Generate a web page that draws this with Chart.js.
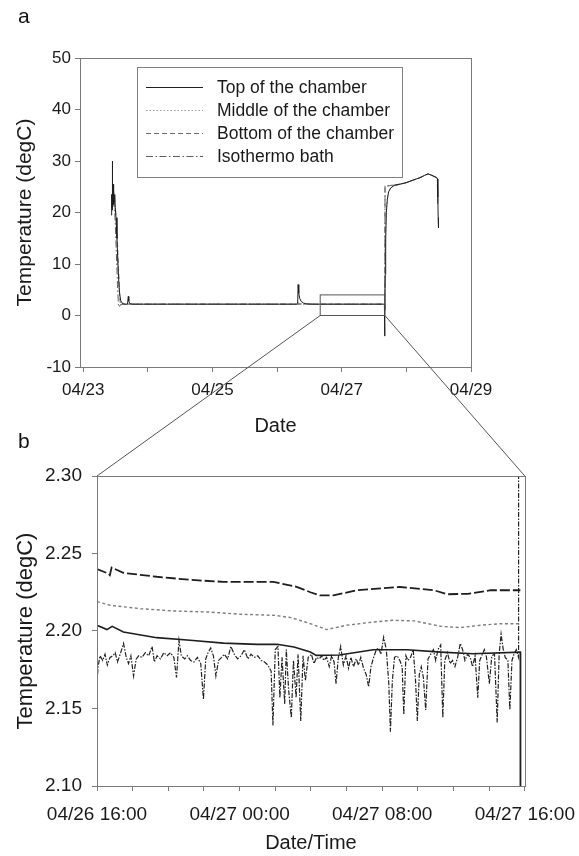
<!DOCTYPE html>
<html>
<head>
<meta charset="utf-8">
<script src="https://cdn.jsdelivr.net/npm/chart.js@4.4.1/dist/chart.umd.min.js"></script>
<style>
  html, body { margin: 0; padding: 0; background: #fff; }
  #page { position: relative; width: 579px; height: 856px; overflow: hidden; font-family: "Liberation Sans", Arial, sans-serif; }
  canvas { position: absolute; left: 0; }
  #chartA { top: 0; }
  #chartB { top: 440px; }
  #overlay { top: 0; pointer-events: none; }
  .panel { position: absolute; left: 18px; font-size: 21px; color: #111; }
</style>
</head>
<body>
<div id="page">
  <canvas id="chartA" width="579" height="440"></canvas>
  <canvas id="chartB" width="579" height="416"></canvas>
  <canvas id="overlay" width="579" height="856"></canvas>
  <div class="panel" style="top:4px">a</div>
  <div class="panel" style="top:429px">b</div>
</div>
<script>
// ---- panel a: days since 04/23 00:00 ----
const aTickDays = [0, 1, 2, 3, 4, 5, 6];
const aTickLabels = ["04/23", "", "04/25", "", "04/27", "", "04/29"];
const aTempTicks = [-10, 0, 10, 20, 30, 40, 50];

const topDaysA = [0.433, 0.440, 0.446, 0.450, 0.455, 0.461, 0.467, 0.473, 0.480, 0.487, 0.495, 0.508, 0.522, 0.540, 0.560, 0.580, 0.598, 0.615, 0.640, 0.685, 0.697, 0.705, 0.720, 0.760, 3.300, 3.318, 3.325, 3.335, 3.350, 3.375, 3.410, 3.460, 3.550, 4.660, 4.664, 4.668, 4.673, 4.680, 4.690, 4.705, 4.725, 4.760, 4.820, 4.900, 5.000, 5.100, 5.200, 5.280, 5.335, 5.380, 5.430, 5.470, 5.482, 5.487, 5.492, 5.497];
const topTempA = [19.5, 23.5, 20.5, 30.0, 22.0, 25.5, 21.5, 24.5, 22.0, 23.5, 21.0, 19.0, 15.0, 9.0, 4.5, 2.9, 2.5, 2.3, 2.2, 2.2, 3.7, 2.8, 2.3, 2.2, 2.2, 2.4, 6.0, 4.3, 3.3, 2.7, 2.4, 2.25, 2.2, 2.2, -4.0, 1.0, 8.0, 15.0, 20.0, 22.5, 24.0, 24.8, 25.3, 25.5, 25.8, 26.3, 26.7, 27.2, 27.5, 27.3, 27.0, 26.8, 26.5, 23.0, 19.0, 17.0];

const midDaysA = [0.440, 0.455, 0.470, 0.490, 0.510, 0.530, 0.550, 0.570, 0.590, 0.610, 0.640, 0.700, 3.300, 3.330, 3.360, 3.420, 4.660, 4.667, 4.675, 4.690, 4.710, 4.740, 4.780, 4.850, 5.000, 5.200, 5.335, 5.430, 5.480, 5.490];
const midTempA = [22.0, 23.5, 22.5, 21.0, 18.0, 12.0, 6.0, 3.0, 2.4, 2.2, 2.2, 2.2, 2.2, 2.6, 2.3, 2.2, 2.2, 2.2, 12.0, 20.0, 23.5, 24.5, 25.0, 25.4, 25.8, 26.7, 27.5, 27.0, 26.6, 22.0];

const botDaysA = [0.445, 0.460, 0.480, 0.500, 0.520, 0.540, 0.560, 0.575, 0.590, 0.610, 0.650, 3.300, 3.340, 3.400, 4.660, 4.666, 4.670, 4.700, 4.780, 4.900, 5.000, 5.200, 5.335, 5.430, 5.480, 5.488];
const botTempA = [22.5, 23.0, 22.0, 20.5, 17.0, 11.0, 5.0, 2.0, 2.2, 2.2, 2.2, 2.2, 2.3, 2.2, 2.2, 2.2, 25.0, 25.1, 25.3, 25.5, 25.8, 26.7, 27.5, 27.0, 26.6, 22.0];

const bathDaysA = [0.440, 0.455, 0.470, 0.490, 0.510, 0.530, 0.545, 0.555, 0.570, 0.600, 0.700, 3.300, 3.400, 4.660, 4.665, 4.670, 4.700, 4.780, 4.850, 5.000, 5.200, 5.335, 5.430, 5.478, 5.485];
const bathTempA = [21.0, 23.0, 22.0, 19.5, 13.0, 6.0, 2.0, 1.6, 2.0, 2.2, 2.2, 2.2, 2.2, 2.2, 2.2, 25.2, 25.2, 25.3, 25.3, 25.8, 26.7, 27.5, 27.0, 26.6, 21.5];

// zoomed window shown in panel b (04/26 16:00 - 04/27 16:00)
const zoomWindowDays = [3.6667, 4.6667];
const zoomWindowTemp = [0, 4];

// ---- panel b: hours since 04/26 16:00 ----
const bTickHours = [0, 2, 4, 6, 8, 10, 12, 14, 16, 18, 20, 22, 24];
const bTickLabels = ["04/26 16:00", "", "", "", "04/27 00:00", "", "", "", "04/27 08:00", "", "", "", "04/27 16:00"];
const bTempTicks = [2.10, 2.15, 2.20, 2.25, 2.30];

const botHoursB = [0, 0.64, 0.72, 0.82, 1.48, 3.35, 5.22, 7.10, 9.90, 11.20, 11.97, 12.50, 13.26, 14.58, 17.00, 18.90, 19.66, 20.80, 22.10, 23.75];
const botTempB = [2.240, 2.237, 2.236, 2.241, 2.2375, 2.235, 2.233, 2.2317, 2.2317, 2.2285, 2.225, 2.223, 2.223, 2.2263, 2.2284, 2.2263, 2.2237, 2.224, 2.2263, 2.2263];

const midHoursB = [0, 0.73, 2.43, 4.31, 6.20, 8.08, 9.96, 10.90, 11.97, 12.88, 14.00, 15.50, 16.60, 17.80, 19.30, 20.40, 21.50, 22.60, 23.75];
const midTempB = [2.219, 2.2166, 2.2144, 2.2129, 2.2123, 2.2108, 2.2101, 2.2086, 2.2047, 2.2009, 2.2037, 2.2058, 2.2069, 2.2065, 2.203, 2.2022, 2.2037, 2.2047, 2.2047];

const topHoursB = [0, 0.56, 0.85, 1.48, 3.35, 5.22, 7.10, 8.98, 10.10, 11.05, 11.97, 12.30, 13.60, 15.50, 17.40, 19.30, 21.10, 23.75, 23.76];
const topTempB = [2.2037, 2.2009, 2.203, 2.1994, 2.1957, 2.194, 2.1922, 2.1914, 2.1914, 2.1897, 2.1864, 2.1843, 2.1845, 2.1879, 2.1879, 2.1864, 2.1853, 2.1864, -4.0];

const bathHoursB = [0, 0.06, 0.17, 0.32, 0.45, 0.58, 0.73, 0.89, 1.02, 1.15, 1.30, 1.49, 1.64, 1.77, 1.90, 2.05, 2.20, 2.34, 2.52, 2.71, 2.90, 3.09, 3.22, 3.37, 3.56, 3.75, 3.94, 4.12, 4.31, 4.46, 4.60, 4.73, 4.92, 5.07, 5.25, 5.44, 5.63, 5.82, 5.97, 6.10, 6.23, 6.38, 6.53, 6.67, 6.82, 6.99, 7.14, 7.33, 7.51, 7.70, 7.89, 8.08, 8.27, 8.46, 8.64, 8.83, 9.02, 9.21, 9.40, 9.59, 9.77, 9.87, 10.00, 10.15, 10.26, 10.38, 10.53, 10.62, 10.75, 10.90, 11.02, 11.17, 11.28, 11.43, 11.56, 11.69, 11.85, 12.03, 12.17, 12.32, 12.47, 12.60, 12.73, 12.88, 13.03, 13.16, 13.30, 13.41, 13.54, 13.67, 13.82, 13.97, 14.11, 14.24, 14.39, 14.54, 14.67, 14.80, 14.95, 15.10, 15.24, 15.37, 15.52, 15.67, 15.80, 15.93, 16.08, 16.23, 16.37, 16.46, 16.57, 16.69, 16.84, 16.99, 17.12, 17.21, 17.33, 17.44, 17.59, 17.74, 17.87, 17.97, 18.08, 18.19, 18.31, 18.44, 18.57, 18.72, 18.87, 19.00, 19.13, 19.28, 19.40, 19.51, 19.66, 19.81, 19.94, 20.08, 20.23, 20.38, 20.51, 20.64, 20.79, 20.94, 21.07, 21.21, 21.36, 21.47, 21.58, 21.73, 21.85, 22.01, 22.15, 22.30, 22.45, 22.56, 22.67, 22.79, 22.90, 23.05, 23.16, 23.28, 23.39, 23.52, 23.65, 23.76];
const bathTempB = [2.166, 2.177, 2.184, 2.181, 2.185, 2.178, 2.183, 2.184, 2.186, 2.180, 2.185, 2.192, 2.183, 2.179, 2.184, 2.171, 2.182, 2.184, 2.183, 2.186, 2.184, 2.190, 2.180, 2.184, 2.182, 2.186, 2.184, 2.186, 2.183, 2.170, 2.194, 2.184, 2.182, 2.184, 2.181, 2.180, 2.183, 2.179, 2.156, 2.182, 2.186, 2.189, 2.184, 2.171, 2.181, 2.183, 2.185, 2.182, 2.190, 2.185, 2.182, 2.184, 2.188, 2.182, 2.185, 2.183, 2.184, 2.181, 2.180, 2.178, 2.174, 2.139, 2.188, 2.190, 2.157, 2.183, 2.153, 2.188, 2.162, 2.144, 2.181, 2.157, 2.185, 2.142, 2.184, 2.168, 2.183, 2.185, 2.179, 2.183, 2.182, 2.184, 2.181, 2.183, 2.177, 2.184, 2.180, 2.166, 2.183, 2.190, 2.178, 2.184, 2.176, 2.183, 2.177, 2.182, 2.178, 2.183, 2.176, 2.172, 2.164, 2.177, 2.183, 2.188, 2.189, 2.185, 2.196, 2.188, 2.166, 2.135, 2.168, 2.183, 2.184, 2.181, 2.177, 2.146, 2.184, 2.181, 2.183, 2.188, 2.168, 2.142, 2.172, 2.177, 2.170, 2.149, 2.182, 2.185, 2.188, 2.181, 2.188, 2.191, 2.144, 2.181, 2.186, 2.179, 2.181, 2.177, 2.183, 2.192, 2.188, 2.181, 2.185, 2.183, 2.177, 2.184, 2.157, 2.181, 2.184, 2.188, 2.183, 2.166, 2.184, 2.185, 2.141, 2.185, 2.198, 2.188, 2.183, 2.181, 2.149, 2.181, 2.185, 2.188, 2.183, 25.2];

const seriesNames = ["Top of the chamber", "Middle of the chamber", "Bottom of the chamber", "Isothermo bath"];

const FONT = "'Liberation Sans', Arial, sans-serif";
const TEXT = "#1a1a1a";
const AXIS_GRAY = "#7a7a7a";

function pts(xs, ys) {
  return xs.map((x, i) => ({ x: x, y: ys[i] }));
}

function line(label, data, color, width, dash) {
  return {
    label: label,
    data: data,
    borderColor: color,
    borderWidth: width,
    borderDash: dash,
    pointRadius: 0,
    tension: 0,
    fill: false,
  };
}

// box round the plot area
const framePlugin = {
  id: "frame",
  afterDraw(chart) {
    const { ctx, chartArea: c } = chart;
    ctx.save();
    ctx.strokeStyle = AXIS_GRAY;
    ctx.lineWidth = 1;
    ctx.strokeRect(Math.round(c.left) + 0.5, Math.round(c.top) + 0.5,
      Math.round(c.right - c.left), Math.round(c.bottom - c.top));
    ctx.restore();
  },
};

// legend box inside panel a
const boxLegend = {
  id: "boxLegend",
  afterDraw(chart) {
    const { ctx, chartArea: c } = chart;
    const left = c.left + 57, top = c.top + 9;
    ctx.save();
    ctx.fillStyle = "#fff";
    ctx.fillRect(left, top, 265, 110);
    ctx.strokeStyle = "#808080";
    ctx.lineWidth = 1;
    ctx.strokeRect(left + 0.5, top + 0.5, 265, 110);
    chart.data.datasets.forEach((ds, i) => {
      const y = top + 20 + 23 * i;
      ctx.strokeStyle = ds.borderColor;
      ctx.lineWidth = 1.2;
      ctx.setLineDash(ds.borderDash);
      ctx.beginPath();
      ctx.moveTo(left + 9, y + 0.5);
      ctx.lineTo(left + 66, y + 0.5);
      ctx.stroke();
      ctx.setLineDash([]);
      ctx.fillStyle = TEXT;
      ctx.font = "17.5px " + FONT;
      ctx.textBaseline = "middle";
      ctx.fillText(seriesNames[i], left + 80, y + 1);
    });
    ctx.restore();
  },
};

// rectangle marking the zoomed window in panel a
const zoomBox = {
  id: "zoomBox",
  afterDatasetsDraw(chart) {
    const { ctx } = chart;
    const x = chart.scales.x, y = chart.scales.y;
    const x0 = x.getPixelForValue(zoomWindowDays[0]), x1 = x.getPixelForValue(zoomWindowDays[1]);
    const y0 = y.getPixelForValue(zoomWindowTemp[0]), y1 = y.getPixelForValue(zoomWindowTemp[1]);
    ctx.save();
    ctx.strokeStyle = "#555";
    ctx.lineWidth = 1;
    ctx.strokeRect(x0, y1, x1 - x0, y0 - y1);
    ctx.restore();
  },
};

function makeOptions(cfg) {
  return {
    responsive: false,
    animation: false,
    events: [],
    layout: { padding: cfg.padding },
    plugins: { legend: { display: false }, tooltip: { enabled: false } },
    scales: {
      x: {
        type: "linear",
        min: cfg.xMin,
        max: cfg.xMax,
        afterBuildTicks: (s) => { s.ticks = cfg.xTicks.map((v) => ({ value: v })); },
        afterFit: (s) => { s.height = cfg.xHeight; },
        grid: { drawOnChartArea: false, drawTicks: true, tickLength: 5, color: AXIS_GRAY },
        border: { color: AXIS_GRAY },
        ticks: {
          autoSkip: false, maxRotation: 0, padding: cfg.xPad, color: TEXT,
          font: { family: FONT, size: cfg.tickSize, lineHeight: cfg.xLineHeight },
          callback: (v, i) => cfg.xLabels[i],
        },
        title: { display: true, text: cfg.xTitle, color: TEXT, font: { family: FONT, size: 20 }, padding: { top: 0, bottom: cfg.xTitlePad } },
      },
      y: {
        type: "linear",
        min: cfg.yMin,
        max: cfg.yMax,
        afterBuildTicks: (s) => { s.ticks = cfg.yTicks.map((v) => ({ value: v })); },
        afterFit: (s) => { s.width = cfg.yWidth; },
        grid: { drawOnChartArea: false, drawTicks: true, tickLength: 5, color: AXIS_GRAY },
        border: { color: AXIS_GRAY },
        ticks: {
          padding: cfg.yPad, color: TEXT,
          font: { family: FONT, size: cfg.tickSize },
          callback: (v) => cfg.yFormat(v),
        },
        title: { display: true, text: "Temperature (degC)", color: TEXT, font: { family: FONT, size: cfg.yTitleSize }, padding: { top: 13, bottom: 0 } },
      },
    },
  };
}

const chartA = new Chart(document.getElementById("chartA"), {
  type: "line",
  data: {
    datasets: [
      line(seriesNames[0], pts(topDaysA, topTempA), "#1e1e1e", 1, []),
      line(seriesNames[1], pts(midDaysA, midTempA), "#9a9a9a", 1, [1.5, 2]),
      line(seriesNames[2], pts(botDaysA, botTempA), "#6e6e6e", 1, [5, 3]),
      line(seriesNames[3], pts(bathDaysA, bathTempA), "#5e5e5e", 1, [7, 2.5, 1.5, 2.5]),
    ],
  },
  options: makeOptions({
    padding: { left: 0, right: 108, top: 58, bottom: 0 },
    xMin: -0.05, xMax: 6, xTicks: aTickDays, xLabels: aTickLabels, xHeight: 73, xPad: 8, xLineHeight: 1.2,
    xTitle: "Date", xTitlePad: 2,
    yMin: -10, yMax: 50, yTicks: aTempTicks, yWidth: 80, yPad: 4,
    yFormat: (v) => String(v), tickSize: 17, yTitleSize: 21,
  }),
  plugins: [framePlugin, zoomBox, boxLegend],
});

const chartB = new Chart(document.getElementById("chartB"), {
  type: "line",
  data: {
    datasets: [
      line(seriesNames[0], pts(topHoursB, topTempB), "#1e1e1e", 1.6, []),
      line(seriesNames[1], pts(midHoursB, midTempB), "#7e7e7e", 1.4, [3, 2.5]),
      line(seriesNames[2], pts(botHoursB, botTempB), "#1e1e1e", 1.8, [10, 3]),
      line(seriesNames[3], pts(bathHoursB, bathTempB), "#222", 1.2, [5, 1.5, 1.5, 1.5]),
    ],
  },
  options: makeOptions({
    padding: { left: 0, right: 54, top: 36, bottom: 0 },
    xMin: 0, xMax: 24, xTicks: bTickHours, xLabels: bTickLabels, xHeight: 70, xPad: 4, xLineHeight: 2.1,
    xTitle: "Date/Time", xTitlePad: 1,
    yMin: 2.10, yMax: 2.30, yTicks: bTempTicks, yWidth: 97, yPad: 10,
    yFormat: (v) => v.toFixed(2), tickSize: 19, yTitleSize: 22,
  }),
  plugins: [framePlugin],
});

// connector lines from the window in panel a to panel b
const ov = document.getElementById("overlay").getContext("2d");
const ax = chartA.scales.x, ay = chartA.scales.y;
const offsetB = document.getElementById("chartB").offsetTop;
ov.strokeStyle = "#555";
ov.lineWidth = 1;
ov.beginPath();
ov.moveTo(ax.getPixelForValue(zoomWindowDays[0]), ay.getPixelForValue(zoomWindowTemp[0]));
ov.lineTo(chartB.chartArea.left, chartB.chartArea.top + offsetB);
ov.moveTo(ax.getPixelForValue(zoomWindowDays[1]), ay.getPixelForValue(zoomWindowTemp[0]));
ov.lineTo(chartB.chartArea.right, chartB.chartArea.top + offsetB);
ov.stroke();
</script>
</body>
</html>
